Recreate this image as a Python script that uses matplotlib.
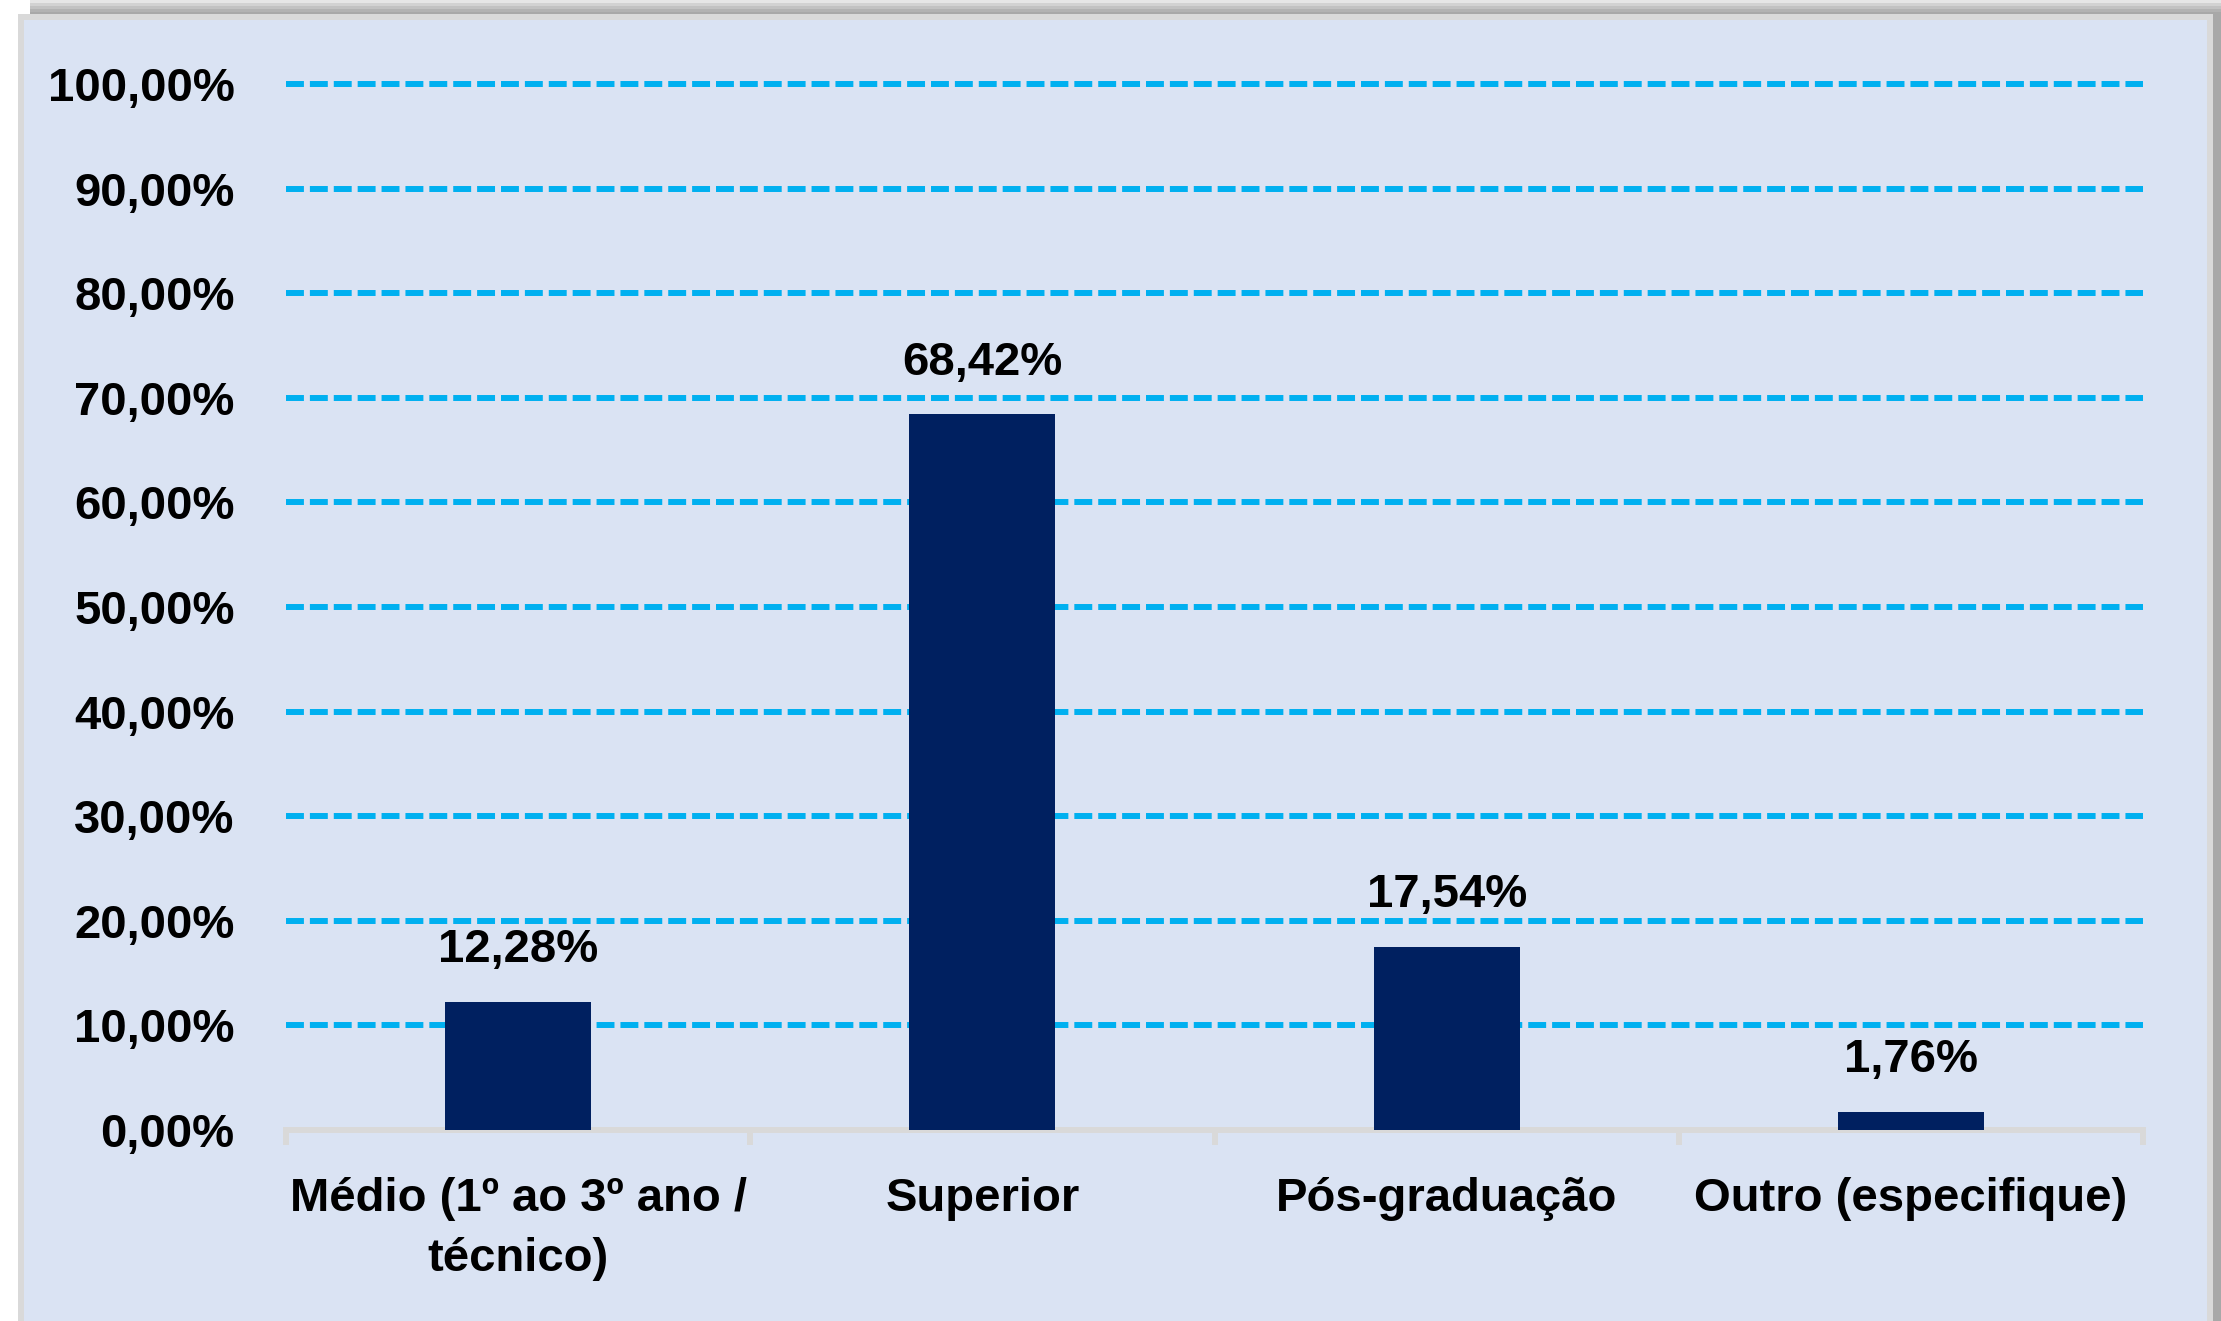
import numpy as np
import matplotlib
matplotlib.use('Agg')
import matplotlib.pyplot as plt
from matplotlib import font_manager
from matplotlib.patches import Rectangle

# dados
categorias = ['Médio (1º ao 3º ano /\ntécnico)', 'Superior', 'Pós-graduação', 'Outro (especifique)']
valores = [12.28, 68.42, 17.54, 1.76]
rotulos = ['12,28%', '68,42%', '17,54%', '1,76%']
yticks = np.arange(0, 101, 10)

nomes = set(f.name for f in font_manager.fontManager.ttflist)
fonte = 'Liberation Sans Narrow' if 'Liberation Sans Narrow' in nomes else 'Liberation Sans'
plt.rcParams['font.family'] = [fonte, 'DejaVu Sans']

W, H = 2221, 1321
fig = plt.figure(figsize=(W / 100, H / 100), dpi=100)
fig.patch.set_facecolor('white')

# sombra (degrade) + moldura + fundo
sombra = [(0, '#E6E6E6'), (3, '#D2D2D2'), (6, '#C2C2C2'), (9, '#B2B2B2'), (12, '#A8A8A8')]
for y0, c in sombra:
    fig.add_artist(Rectangle((30 / W, 0), (W - 30) / W, 1 - y0 / H, transform=fig.transFigure,
                             facecolor=c, edgecolor='none', zorder=0))
fig.add_artist(Rectangle((18 / W, 0), (2213 - 18) / W, 1 - 14 / H, transform=fig.transFigure,
                         facecolor='#D9D9D9', edgecolor='none', zorder=0))
fig.add_artist(Rectangle((24 / W, 0), (2207 - 24) / W, 1 - 20 / H, transform=fig.transFigure,
                         facecolor='#DAE3F3', edgecolor='none', zorder=0))

ax = fig.add_axes([286 / W, 1 - 1130 / H, (2143 - 286) / W, (1130 - 84) / H])
ax.set_facecolor('none')

x = np.arange(len(categorias))
barras = ax.bar(x, valores, width=0.315, color='#002060', zorder=3)

ax.set_xlim(-0.5, len(categorias) - 0.5)
ax.set_ylim(0, 100)

for yv in yticks[1:]:
    ax.axhline(yv, color='#00B0F0', lw=4.3, linestyle=(0, (3, 1)), zorder=1, clip_on=False)

for s in ['top', 'right', 'left']:
    ax.spines[s].set_visible(False)
ax.spines['bottom'].set_color('#D9D9D9')
ax.spines['bottom'].set_linewidth(4.3)

ax.set_yticks(yticks)
ax.set_yticklabels([f'{v:.2f}'.replace('.', ',') + '%' for v in yticks])
ax.tick_params(axis='y', length=0, pad=37, labelsize=34)

ax.set_xticks(x)
ax.set_xticklabels(categorias, fontsize=34, fontweight='bold', linespacing=1.45)
ax.tick_params(axis='x', length=0, pad=34)
for lab in ax.get_yticklabels():
    lab.set_fontweight('bold')

# marcas entre categorias
for b in np.arange(-0.5, len(categorias), 1.0):
    ax.plot([b, b], [0, -1.4], color='#D9D9D9', lw=4.3, clip_on=False, zorder=2,
            solid_capstyle='butt')

for xi, v, r in zip(x, valores, rotulos):
    ax.annotate(r, (xi, v), xytext=(0, 21), textcoords='offset points',
                ha='center', va='bottom', fontsize=34, fontweight='bold')

fig.savefig('out.png', dpi=100, facecolor=fig.get_facecolor())
